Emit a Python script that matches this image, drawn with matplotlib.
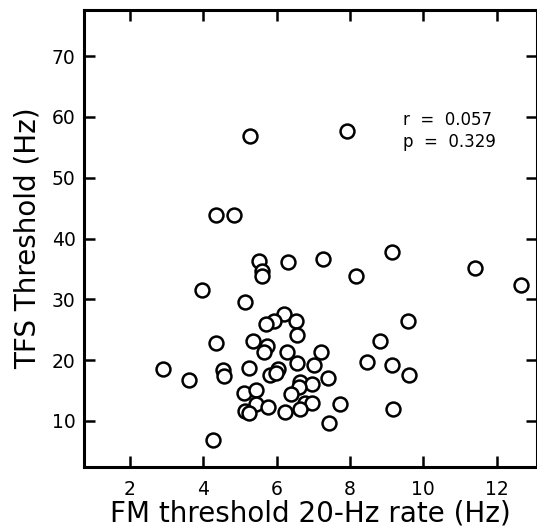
import matplotlib
matplotlib.use("Agg")
import matplotlib.pyplot as plt

plt.rcParams["font.family"] = ["DejaVu Sans"]

# FM threshold at 20-Hz rate (Hz)
fm_threshold = [
    5.28, 7.91, 4.35, 4.85, 9.15, 7.26, 5.51, 6.31, 5.59, 5.61,
    8.17, 11.42, 12.67, 3.97, 5.13, 6.21, 5.93, 5.71, 6.52, 9.59,
    6.57, 4.36, 5.35, 8.82, 5.74, 5.65, 6.28, 7.22, 6.57, 8.46,
    9.16, 7.01, 2.91, 4.55, 4.57, 5.25, 3.61, 6.05, 5.81, 5.98,
    7.40, 9.61, 6.64, 6.96, 6.62, 5.11, 5.44, 6.40, 7.74, 5.45,
    5.76, 6.78, 6.97, 6.65, 5.13, 5.25, 6.22, 9.17, 7.44, 4.28,
]
# TFS threshold (Hz)
tfs_threshold = [
    56.9, 57.7, 43.8, 43.8, 37.8, 36.7, 36.3, 36.1, 34.6, 33.8,
    33.9, 35.1, 32.3, 31.6, 29.5, 27.6, 26.5, 26.0, 26.5, 26.5,
    24.2, 22.8, 23.1, 23.1, 22.3, 21.4, 21.3, 21.3, 19.5, 19.6,
    19.2, 19.2, 18.6, 18.4, 17.3, 18.7, 16.8, 18.6, 17.6, 17.8,
    17.1, 17.6, 16.4, 16.0, 15.6, 14.6, 15.0, 14.4, 12.7, 12.7,
    12.2, 13.0, 13.0, 12.0, 11.7, 11.3, 11.5, 11.9, 9.7, 6.9,
]

x_ticks = [2, 4, 6, 8, 10, 12]
y_ticks = [10, 20, 30, 40, 50, 60, 70]

fig = plt.figure(figsize=(5.37, 5.28), dpi=100)
ax = fig.add_axes([0.1564, 0.1155, 0.8436, 0.8655])

ax.plot(fm_threshold, tfs_threshold, "o", markersize=10, markerfacecolor="white",
        markeredgecolor="black", markeredgewidth=1.8, linestyle="none")

ax.set_xlim(0.75, 13.1)
ax.set_ylim(2.4, 77.6)
ax.set_xticks(x_ticks)
ax.set_yticks(y_ticks)

for side in ax.spines.values():
    side.set_linewidth(2.2)
ax.tick_params(direction="in", length=8, width=1.8, labelsize=13.5,
               top=True, right=True)
ax.tick_params(axis="x", pad=9)
ax.tick_params(axis="y", pad=6)

ax.set_xlabel("FM threshold 20-Hz rate (Hz)", fontsize=20, labelpad=1)
ax.set_ylabel("TFS Threshold (Hz)", fontsize=20, labelpad=7)

ax.text(9.46, 59.5, "r  =  0.057", fontsize=12, va="center", ha="left")
ax.text(9.46, 55.9, "p  =  0.329", fontsize=12, va="center", ha="left")

fig.savefig("out.png", dpi=100)
